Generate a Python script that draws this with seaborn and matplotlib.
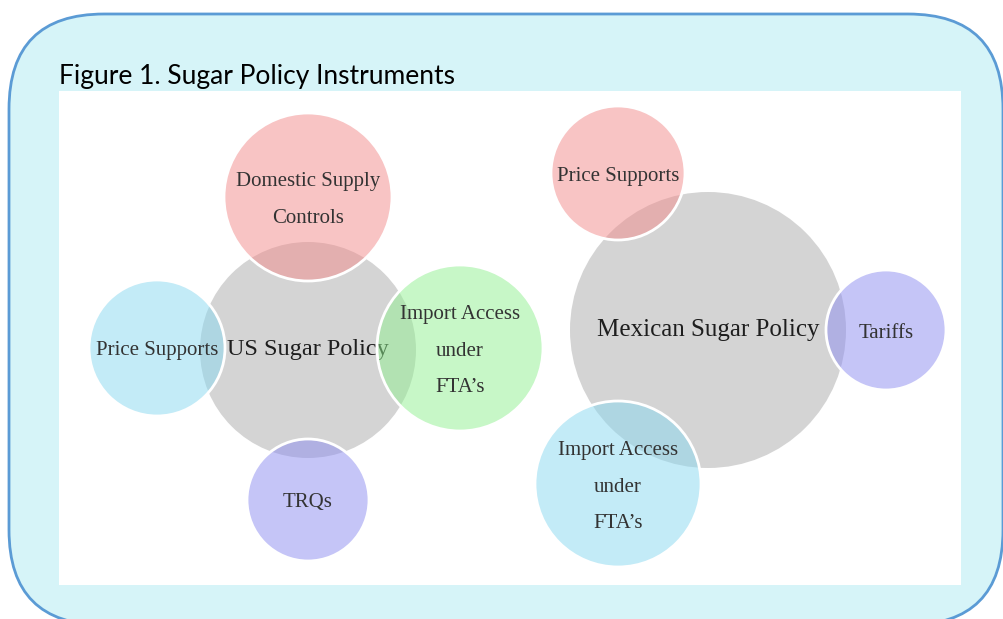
import matplotlib
matplotlib.use("Agg")
import matplotlib.pyplot as plt
from matplotlib.patches import Circle, FancyBboxPatch
import seaborn as sns

sns.set_theme(style="white")

# circle layout (pixel units, y downwards)
labels = ["US Sugar Policy", "Domestic Supply\nControls", "Price Supports",
          "Import Access\nunder\nFTA’s", "TRQs",
          "Mexican Sugar Policy", "Price Supports", "Tariffs",
          "Import Access\nunder\nFTA’s"]
cx = [308, 308, 157, 460, 308, 708, 618, 886, 618]
cy = [350, 197, 348, 348, 500, 330, 173, 330, 484]
radius = [108, 84, 68, 83, 61, 138, 67, 60, 83]
kind = ["hub", "pink", "blue", "green", "purple", "hub", "pink", "purple", "blue"]
font_size = [17.5, 15, 15, 15, 15, 18, 15, 15, 15]

colors = {"hub": (212/255, 212/255, 212/255),
          "pink": (243/255, 139/255, 139/255),
          "blue": (137/255, 217/255, 241/255),
          "green": (145/255, 241/255, 145/255),
          "purple": (141/255, 141/255, 241/255)}

fig = plt.figure(figsize=(10.04, 6.19), dpi=100)
ax = fig.add_axes([0, 0, 1, 1])
ax.set_xlim(0, 1004)
ax.set_ylim(619, 0)
ax.axis("off")

# rounded frame
frame = FancyBboxPatch((9 + 95, 14 + 95), 1003 - 9 - 190, 625 - 14 - 190,
                       boxstyle="round,pad=95", fc="#d6f4f8", ec="#5b9bd5", lw=2)
ax.add_patch(frame)
ax.add_patch(plt.Rectangle((59, 91), 902, 494, fc="white", ec="none"))
ax.text(59, 84, "Figure 1. Sugar Policy Instruments", fontsize=19,
        family="Lato", color="black", va="baseline")


def put_label(i, color, z, nudge):
    lines = labels[i].split("\n")
    step = 37
    y0 = cy[i] + nudge - step * (len(lines) - 1) / 2
    for k, line in enumerate(lines):
        ax.text(cx[i], y0 + k * step, line, ha="center", va="center",
                fontsize=font_size[i], family="Liberation Serif", color=color, zorder=z)


for i in range(len(labels)):
    if kind[i] == "hub":
        ax.add_patch(Circle((cx[i], cy[i]), radius[i], fc=colors["hub"], ec="none", zorder=2))
        put_label(i, "#1e1e1e", 3, 0)
for i in range(len(labels)):
    if kind[i] != "hub":
        ax.add_patch(Circle((cx[i], cy[i]), radius[i], fc=colors[kind[i]] + (0.5,),
                            ec="white", lw=2, zorder=4))
        put_label(i, "#333333", 5, 3)

fig.savefig("out.png", dpi=100)
